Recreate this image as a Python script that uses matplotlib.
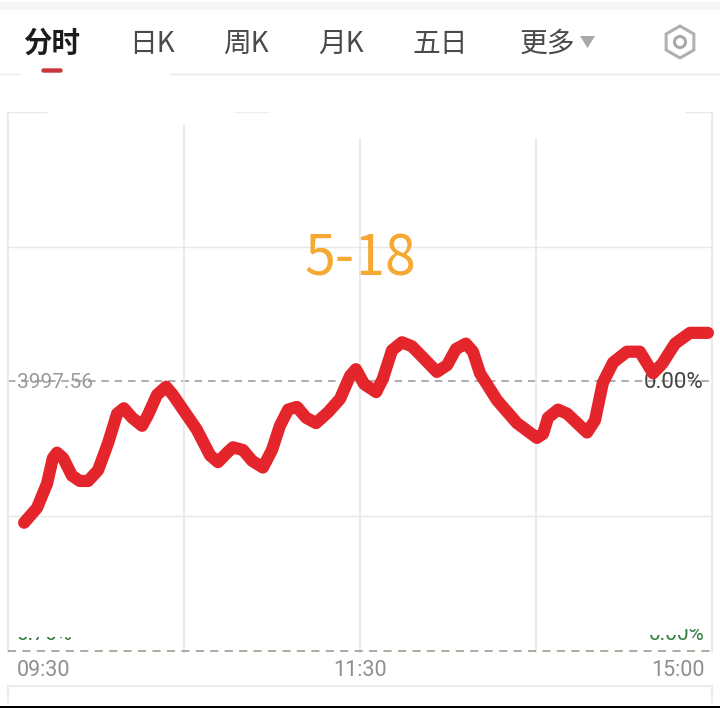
from matplotlib.patches import Circle, FancyBboxPatch, Polygon, Rectangle, RegularPolygon
import matplotlib.pyplot as plt

plt.rcParams['font.family'] = ['Noto Sans CJK SC', 'DejaVu Sans']

# minutes since the open, change from previous close in grid steps
minutes = [5.5, 9.9, 13.3, 15.3, 16.7, 18.8, 21.8, 24.5, 27.3, 30.7, 34.1, 37.2, 39.5, 42.3, 45.7, 47.7,
           50.8, 53.9, 56.2, 64.4, 68.9, 71.6, 74.7, 76.7, 80.1, 83.2, 86.9, 90, 92.7, 95.5, 98.5, 101.6,
           105, 109.1, 113.2, 116.6, 118.6, 121.4, 125.5, 127.8, 130.9, 134.3, 137.7, 142.2, 146.2, 149.7,
           152.7, 156.1, 158.5, 160.9, 166.7, 173.5, 180.3, 182.4, 184.1, 187.5, 190.6, 197.4, 200.1,
           202.8, 206.3, 211, 215.4, 219.9, 223, 227.4, 232.5, 238.6]
change = [-1.05, -.94, -.76, -.57, -.53, -.57, -.70, -.74, -.74, -.66, -.46, -.24, -.20, -.27, -.33, -.25,
          -.10, -.04, -.10, -.36, -.55, -.60, -.53, -.49, -.51, -.59, -.64, -.51, -.33, -.21, -.19, -.27,
          -.31, -.23, -.13, .04, .09, -.02, -.08, .02, .23, .29, .26, .16, .07, .12,
          .24, .28, .22, .06, -.14, -.31, -.42, -.39, -.27, -.21, -.24, -.38, -.29,
          -.01, .14, .22, .22, .06, .13, .28, .36, .36]
time_ticks = [0, 60, 120, 180, 240]
grid_tops = [2.0, 1.9, 1.8, 1.8, 2.0]
grid_steps = [-1, 1]
tabs = ['分时', '日K', '周K', '月K', '五日', '更多']
tab_x = [52, 152, 246, 341, 440, 547]

fig = plt.figure(figsize=(7.2, 7.08), dpi=100)

# page furniture in pixel coordinates
bg = fig.add_axes([0, 0, 1, 1])
bg.set_xlim(0, 720)
bg.set_ylim(708, 0)
bg.axis('off')
bg.add_patch(Rectangle((0, 2), 720, 8, color='#f5f5f5', lw=0))
bg.add_patch(Rectangle((0, 706), 720, 2, color='black', lw=0))
bg.plot([0, 20], [74, 74], color='#ececec', lw=1)
bg.plot([170, 720], [74, 74], color='#e6e6e6', lw=1)
bg.plot([8, 712], [686, 686], color='#ececec', lw=1.5)
bg.plot([8, 8], [686, 702], color='#ececec', lw=1.5)
bg.plot([712, 712], [686, 702], color='#ececec', lw=1.5)

for i, (name, x) in enumerate(zip(tabs, tab_x)):
    bg.text(x, 44, name, ha='center', va='center', fontsize=20 if i else 20.5,
            fontweight='bold' if i == 0 else 'normal', color='#1c1c1c' if i == 0 else '#4a4a4a')
bg.add_patch(FancyBboxPatch((42, 69), 20, 3, boxstyle='round,pad=0,rounding_size=1.5', color='#c8363c', lw=1))
bg.add_patch(Polygon([[580, 36], [595, 36], [587.5, 48]], color='#a8a8a8', lw=0))
bg.add_patch(RegularPolygon((680, 42), 6, radius=16, fill=False, ec='#b0b0b0', lw=2.2))
bg.add_patch(Circle((680, 42), 5.5, fill=False, ec='#a8a8a8', lw=2.2))

# chart area: 09:30 to 15:00, top edge y=112, bottom edge y=652
ax = fig.add_axes([8 / 720, (708 - 652) / 708, 704 / 720, 540 / 708])
ax.patch.set_alpha(0)
ax.set_xlim(time_ticks[0], time_ticks[-1])
ax.set_ylim(-2.01, 2.0)
ax.set_xticks([])
ax.set_yticks([])
for s in ax.spines.values():
    s.set_visible(False)

# green percent labels, mostly erased in the screenshot
ax.text(3, -1.88, '0.76%', ha='left', va='center', fontsize=15, color='#2e7d3a', family='Roboto', zorder=3)
ax.text(237.5, -1.88, '0.00%', ha='right', va='center', fontsize=15, color='#2e7d3a', family='Roboto', zorder=3)
ax.fill_between([0.5, 30], -1.895, -1.70, color='white', lw=0, zorder=3.5)
ax.fill_between([30, 229], -1.885, -1.70, color='white', lw=0, zorder=3.5)
ax.fill_between([229, 239], -1.84, -1.70, color='white', lw=0, zorder=3.5)

for t, top in zip(time_ticks, grid_tops):
    ax.plot([t, t], [-2.01, top], color='#e8e8e8', lw=1.2, zorder=3.6, clip_on=False)
for g in grid_steps:
    ax.axhline(g, color='#e8e8e8', lw=1, zorder=1)
ax.plot([0, 13], [2.0, 2.0], color='#e8e8e8', lw=1, zorder=1)
ax.plot([77, 89], [2.0, 2.0], color='#eeeeee', lw=1, zorder=1)
ax.plot([231, 240], [2.0, 2.0], color='#e8e8e8', lw=1, zorder=1)

ax.axhline(0, color='#a0a0a0', lw=1.2, dashes=(4.5, 3.5), zorder=2)
ax.plot([0, 240], [-2.005, -2.005], color='#a8a596', lw=1.3, dashes=(4.5, 3.5), zorder=3.7, clip_on=False)

ax.text(3, -0.005, '3997.56', ha='left', va='center', fontsize=15, color='#9a9a9a', family='Roboto', zorder=3)
ax.text(237, -0.005, '0.00%', ha='right', va='center', fontsize=16, color='#444444', family='Roboto', zorder=3)
ax.text(120, 0.90, '5-18', ha='center', va='center', fontsize=40, color='#f6a832', zorder=3)

ax.plot(minutes, change, color='#e4262c', lw=8.8, solid_capstyle='round', solid_joinstyle='round',
        zorder=4, clip_on=False)

ax.text(3, -2.15, '09:30', ha='left', va='center', fontsize=15.5, color='#8f8f8f', family='Roboto', clip_on=False)
ax.text(120, -2.15, '11:30', ha='center', va='center', fontsize=15.5, color='#8f8f8f', family='Roboto', clip_on=False)
ax.text(237.5, -2.15, '15:00', ha='right', va='center', fontsize=15.5, color='#8f8f8f', family='Roboto', clip_on=False)

fig.savefig('out.png', dpi=100)
